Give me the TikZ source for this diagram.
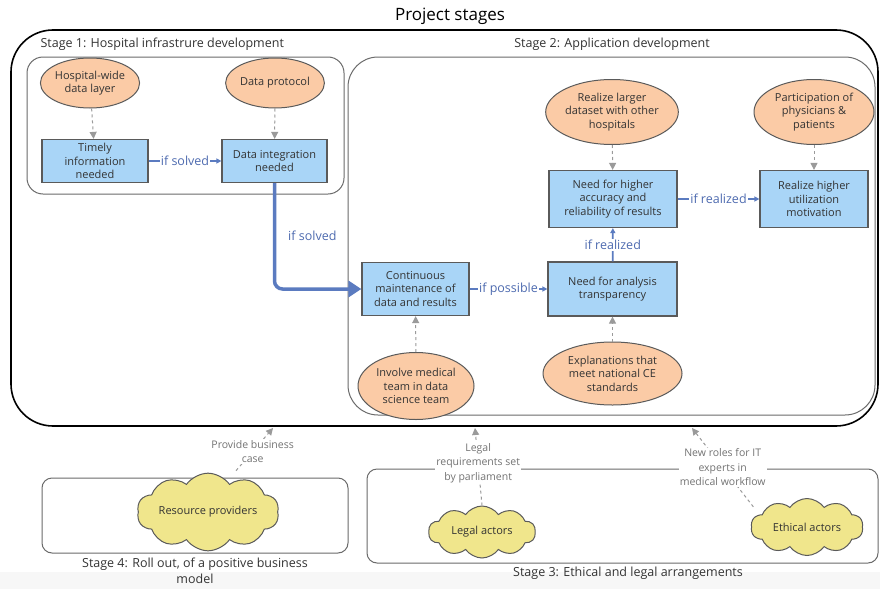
\documentclass[tikz,border=0pt]{standalone}
\usepackage{fontspec}
\setmainfont{Open Sans}
\usetikzlibrary{shapes.geometric,shapes.symbols,arrows.meta}
\definecolor{peach}{HTML}{FBCBA6}
\definecolor{boxblue}{HTML}{A9D5F7}
\definecolor{khaki}{HTML}{F0E68C}
\definecolor{edgeblue}{HTML}{5B7BC0}
\definecolor{lblblue}{HTML}{4E6BB0}
\definecolor{bordergray}{HTML}{5A5A5A}
\definecolor{dgray}{HTML}{9A9A9A}
\tikzset{
  x=1pt,y=-1pt,
  every node/.style={font=\fontsize{11}{13.5}\selectfont, text=black!80},
  oval/.style={ellipse, draw=bordergray, fill=peach, line width=1pt, inner sep=0pt, align=center},
  task/.style={rectangle, draw=bordergray, fill=boxblue, line width=1.2pt, inner sep=0pt, align=center},
  actor/.style={cloud, cloud puffs=10, cloud puff arc=110, draw=bordergray, fill=khaki, line width=1pt, inner sep=0pt, align=center, aspect=2.4},
  frame/.style={draw=bordergray!90, line width=1pt},
  infl/.style={draw=dgray, dashed, line width=1pt, -{Triangle[length=7pt,width=7pt]}},
  cond/.style={draw=edgeblue, line width=1.8pt, -{Triangle[length=5pt,width=5pt]}},
  condlbl/.style={fill=white, inner sep=1pt, text=lblblue, font=\fontsize{12.5}{14}\selectfont},
  infllbl/.style={fill=white, inner sep=1pt, text=black!55, align=center, font=\fontsize{10.5}{14.5}\selectfont},
  stagelbl/.style={text=black!80, font=\fontsize{12.5}{15}\selectfont, align=center},
}
\begin{document}
\begin{tikzpicture}
\useasboundingbox (0,0) rectangle (880,589);
\fill[white] (0,0) rectangle (880,589);
\fill[black!3] (0,572) rectangle (880,589);
% title
\node[font=\fontsize{17}{20}\selectfont, text=black] (title) at (450,16) {Project stages};
% outer frame
\draw[black, line width=1.6pt, rounded corners=42pt] (11,30) rectangle (878,426);
% stage 1
\draw[frame, rounded corners=16pt] (27,57) rectangle (344,194);
\node[stagelbl, anchor=west] (s1) at (37,44) {Stage 1: Hospital infrastrure development};
% stage 2
\draw[frame, rounded corners=30pt] (348,57) rectangle (875,415);
\node[stagelbl] (s2) at (612,44) {Stage 2: Application development};

% stage 1 nodes
\node[oval, minimum width=96pt, minimum height=50pt] (hw) at (90,83) {Hospital-wide\\data layer};
\node[oval, minimum width=96pt, minimum height=50pt] (dp) at (275,83) {Data protocol};
\node[task, minimum width=106pt, minimum height=43pt] (ti) at (95,161) {Timely\\information\\needed};
\node[task, minimum width=105pt, minimum height=43pt] (di) at (274.5,161) {Data integration\\needed};

% stage 2 nodes
\node[oval, minimum width=130pt, minimum height=65pt] (rl) at (612,112) {Realize larger\\dataset with other\\hospitals};
\node[oval, minimum width=120pt, minimum height=65pt] (pp) at (814,112) {Participation of\\physicians \&\\patients};
\node[task, minimum width=128pt, minimum height=57pt] (na) at (613,199) {Need for higher\\accuracy and\\reliability of results};
\node[task, minimum width=108pt, minimum height=57pt] (ru) at (814,199) {Realize higher\\utilization\\motivation};
\node[task, minimum width=107pt, minimum height=53pt] (cm) at (415.5,289) {Continuous\\maintenance of\\data and results};
\node[task, minimum width=129pt, minimum height=54pt] (nt) at (612.5,289) {Need for analysis\\transparency};
\node[oval, minimum width=116pt, minimum height=67pt] (im) at (416,386) {Involve medical\\team in data\\science team};
\node[oval, minimum width=139pt, minimum height=63pt] (ex) at (612.5,373.5) {Explanations that\\meet national CE\\standards};

% stage 4
\draw[frame, rounded corners=10pt] (42,478) rectangle (348,553);
\node[stagelbl, font=\fontsize{12.5}{16.5}\selectfont] (s4) at (195,571) {Stage 4: Roll out, of a positive business\\model};
\node[actor, minimum width=125pt, minimum height=54pt] (rp) at (208,512) {Resource providers};
% stage 3
\draw[frame, rounded corners=10pt] (367,469) rectangle (878,563);
\node[stagelbl] (s3) at (628,573) {Stage 3: Ethical and legal arrangements};
\node[actor, minimum width=107pt, minimum height=52pt] (la) at (482,532) {Legal actors};
\node[actor, minimum width=112pt, minimum height=57pt] (ea) at (807,527) {Ethical actors};
\coordinate (p4) at (273,428);
\coordinate (p3) at (475,428);
\coordinate (pe) at (692,428);

% influence edges
\draw[infl] (hw) -- (ti);
\draw[infl] (dp) -- (di);
\draw[infl] (rl) -- (na);
\draw[infl] (pp) -- (ru);
\draw[infl] (im) -- (cm);
\draw[infl] (ex) -- (nt);
\draw[infl] (rp.north) ++(28,-2) -- (p4) node[infllbl, pos=0.45] (lbl4) {Provide business\\case};
\draw[infl] (la.north) -- (p3) node[infllbl, pos=0.55] (lbl3) {Legal\\requirements set\\by parliament};
\draw[infl] (ea.north west) ++(-14,0) -- (pe) node[infllbl, pos=0.5] (lble) {New roles for IT\\experts in\\medical workflow};

% conditional edges
\draw[cond] (ti) -- (di) node[condlbl, midway] (l1) {if solved};
\draw[draw=edgeblue, line width=3.5pt, rounded corners=8pt, -{Triangle[length=13pt,width=16pt]}] (di.south) -- (di.south |- cm.west) -- (cm.west);
\node[condlbl, anchor=west, fill=none] (l2) at (287,236) {if solved};
\draw[cond] (cm) -- (nt) node[condlbl, midway] (l3) {if possible};
\draw[cond] (nt) -- (na) node[condlbl, midway] (l4) {if realized};
\draw[cond] (na) -- (ru) node[condlbl, midway] (l5) {if realized};
\end{tikzpicture}
\end{document}
